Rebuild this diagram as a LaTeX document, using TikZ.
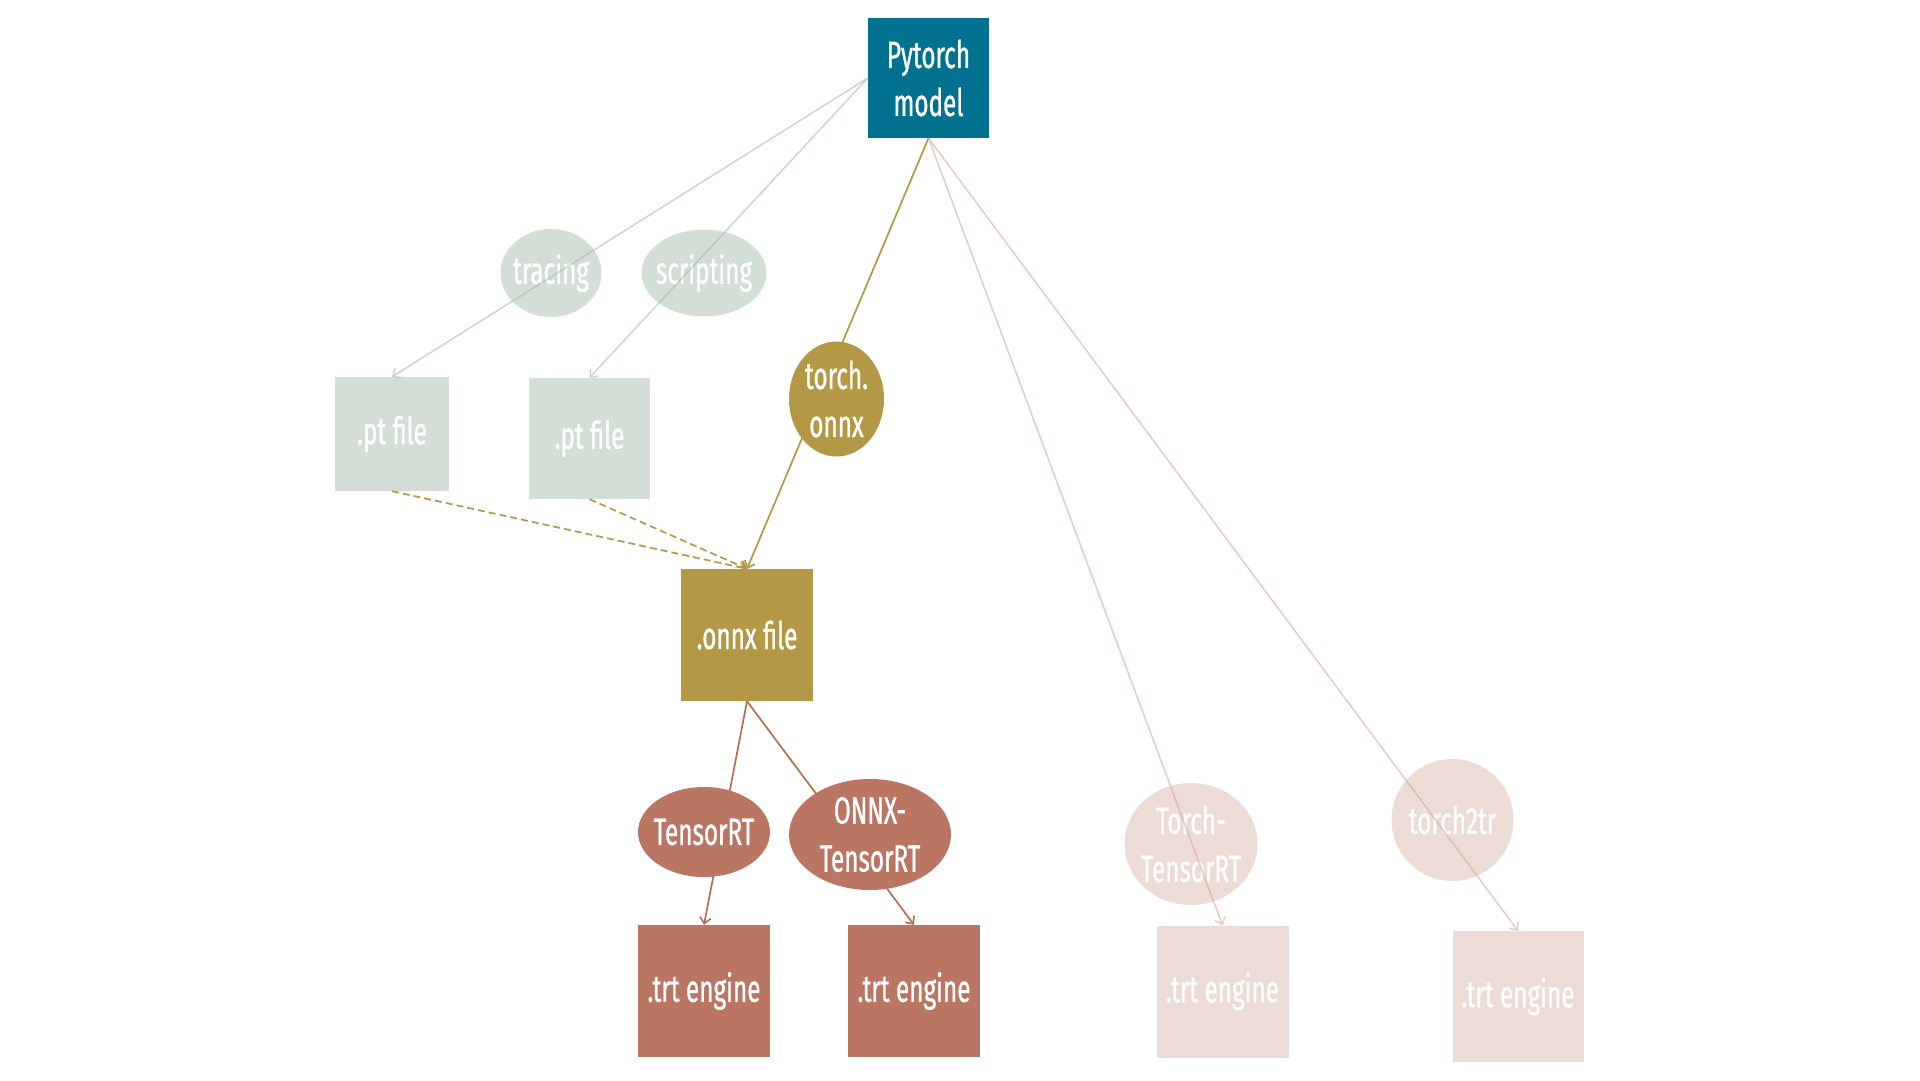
\documentclass[tikz,border=0pt]{standalone}
\usepackage{fontspec}
\setmainfont[FakeStretch=0.64, FakeBold=0.8]{Fira Sans}
\usepackage{tikz}
\usetikzlibrary{shapes.geometric, arrows.meta}
\usepackage{xcolor}
\definecolor{pytorchblue}{RGB}{0,114,143}
\definecolor{onnxgold}{RGB}{179,152,69}
\definecolor{trtbrick}{RGB}{186,118,98}
\definecolor{brickline}{RGB}{180,112,78}
\definecolor{sagefill}{RGB}{211,222,214}
\definecolor{sageline}{RGB}{165,188,177}
\definecolor{pinkfill}{RGB}{237,220,214}
\definecolor{pinkline}{RGB}{214,168,156}

\begin{document}
\begin{tikzpicture}[x=1pt, y=-1pt,
	txt/.style={text=white, align=center, font=\fontsize{38}{48}\selectfont, inner sep=0pt},
	filebox/.style={txt, rectangle, minimum width=132pt, minimum height=132pt},
	tool/.style={txt, ellipse, inner sep=-10pt},
	conv/.style={line width=1.7pt, -{Straight Barb[length=6pt,width=11pt]}}]
	\useasboundingbox (0,0) rectangle (1920,1080);
	% Nodes: source
	\node[txt, fill=pytorchblue, minimum width=121pt, minimum height=120pt] (pytorch) at (928.5,78) {Pytorch\\model};
	% Nodes: TorchScript branch
	\node[tool, fill=sagefill, minimum width=101pt, minimum height=88pt] (tracing) at (551,273) {tracing};
	\node[tool, fill=sagefill, minimum width=125pt, minimum height=87pt] (scripting) at (704,273) {scripting};
	\node[filebox, fill=sagefill, minimum width=114pt, minimum height=114pt] (pt1) at (392,434) {.pt file};
	\node[filebox, fill=sagefill, minimum width=121pt, minimum height=121pt] (pt2) at (589.5,438.5) {.pt file};
	% Nodes: ONNX branch
	\node[filebox, fill=onnxgold] (onnx) at (747,635) {.onnx file};
	\draw[conv, onnxgold] (pytorch.south) -- (onnx.north);
	\node[tool, fill=onnxgold, minimum width=95pt, minimum height=115pt] (torchonnx) at (836.5,399) {torch.\\onnx};
	\draw[conv, onnxgold, dashed, dash pattern=on 7pt off 4pt] (pt1.south) -- (onnx.north);
	\draw[conv, onnxgold, dashed, dash pattern=on 7pt off 4pt] (pt2.south) -- (onnx.north);
	% Nodes: TensorRT engines
	\node[filebox, fill=trtbrick] (trt1) at (704,991) {.trt engine};
	\node[filebox, fill=trtbrick] (trt2) at (914,991) {.trt engine};
	\draw[conv, brickline] (onnx.south) -- (trt1.north);
	\draw[conv, brickline] (onnx.south) -- (trt2.north);
	\node[tool, fill=trtbrick, minimum width=132pt, minimum height=90pt] (tensorrt) at (704,832) {TensorRT};
	\node[tool, fill=trtbrick, minimum width=162pt, minimum height=111pt] (onnxtrt) at (870,834.5) {ONNX-\\TensorRT};
	% Nodes: direct converters
	\node[tool, fill=pinkfill, minimum width=133pt, minimum height=122pt] (torchtrt) at (1191,844) {Torch-\\TensorRT};
	\node[tool, fill=pinkfill, minimum width=122pt, minimum height=122pt] (torch2tr) at (1452.5,820) {torch2tr};
	\node[filebox, fill=pinkfill] (trt3) at (1222.5,991.5) {.trt engine};
	\node[filebox, fill=pinkfill, minimum width=131pt, minimum height=131pt] (trt4) at (1518,996.5) {.trt engine};
	% Edges drawn over the light tools
	\draw[conv, sageline, opacity=0.6, line width=1.5pt] (pytorch.west) -- (pt1.north);
	\draw[conv, sageline, opacity=0.6, line width=1.5pt] (pytorch.west) -- (pt2.north);
	\draw[conv, pinkline, opacity=0.6, line width=1.5pt] (pytorch.south) -- (trt3.north);
	\draw[conv, pinkline, opacity=0.6, line width=1.5pt] (pytorch.south) -- (trt4.north);
\end{tikzpicture}
\end{document}
